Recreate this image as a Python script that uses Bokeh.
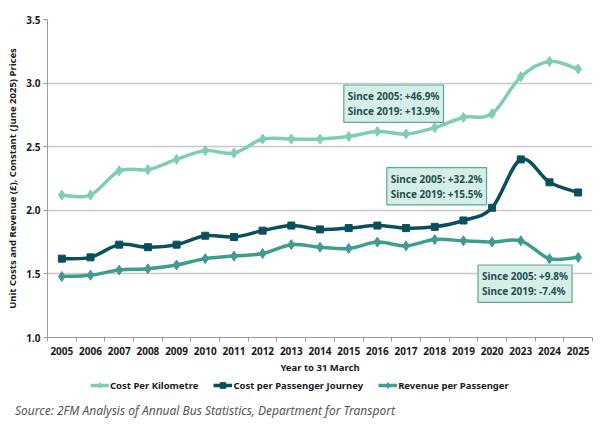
from bokeh.plotting import figure
from bokeh.layouts import column
from bokeh.models import (Range1d, FixedTicker, Label, Legend, LegendItem,
                          NumeralTickFormatter, Div)
from bokeh.embed import file_html
from bokeh.resources import INLINE

# Years (financial year to 31 March)
years = ["2005", "2006", "2007", "2008", "2009", "2010", "2011", "2012", "2013",
         "2014", "2015", "2016", "2017", "2018", "2019", "2020", "2023", "2024", "2025"]

# Unit costs and revenue, £ at constant June 2025 prices
cost_per_km = [2.12, 2.12, 2.31, 2.32, 2.40, 2.47, 2.45, 2.56, 2.56, 2.56,
               2.58, 2.62, 2.60, 2.65, 2.73, 2.76, 3.05, 3.17, 3.11]
cost_per_journey = [1.62, 1.63, 1.73, 1.71, 1.73, 1.80, 1.79, 1.84, 1.88, 1.85,
                    1.86, 1.88, 1.86, 1.87, 1.92, 2.02, 2.40, 2.22, 2.14]
revenue_per_pass = [1.48, 1.49, 1.53, 1.54, 1.57, 1.62, 1.64, 1.66, 1.73, 1.71,
                    1.70, 1.75, 1.72, 1.77, 1.76, 1.75, 1.76, 1.62, 1.63]

y_ticks = [1.0, 1.5, 2.0, 2.5, 3.0, 3.5]

notes_km = "Since 2005: +46.9%\nSince 2019: +13.9%"
notes_journey = "Since 2005: +32.2%\nSince 2019: +15.5%"
notes_revenue = "Since 2005: +9.8%\nSince 2019: -7.4%"
source_note = "Source: 2FM Analysis of Annual Bus Statistics, Department for Transport"

C_KM = "#80CDB7"
C_JOURNEY = "#0B4F5C"
C_REV = "#3E9E8C"
C_REV_EDGE = "#4d8fa8"
FONT = "Noto Sans"

n = len(years)
xs = list(range(n))

p = figure(width=600, height=376, output_backend="svg", toolbar_location=None,
           x_range=Range1d(-0.5, n - 0.5), y_range=Range1d(1.0, 3.5),
           min_border_left=47, min_border_right=8, min_border_top=19,
           min_border_bottom=37)
p.outline_line_color = None
p.background_fill_color = "white"
p.border_fill_color = "white"

# axes
p.xaxis.ticker = FixedTicker(ticks=xs, minor_ticks=[i - 0.5 for i in range(n + 1)])
p.xaxis.major_label_overrides = {i: y for i, y in enumerate(years)}
p.xaxis.major_tick_out = 0
p.xaxis.major_tick_in = 0
p.xaxis.minor_tick_out = 4
p.xaxis.minor_tick_in = 0
p.xaxis.axis_line_color = "#9a9a9a"
p.xaxis.minor_tick_line_color = "#9a9a9a"
p.xaxis.axis_label = "Year to 31 March"
p.xaxis.axis_label_standoff = 3
p.xaxis.major_label_standoff = 5

p.yaxis.ticker = FixedTicker(ticks=y_ticks)
p.yaxis.formatter = NumeralTickFormatter(format="0.0")
p.yaxis.axis_line_color = "#9a9a9a"
p.yaxis.major_tick_line_color = "#9a9a9a"
p.yaxis.major_tick_out = 4
p.yaxis.major_tick_in = 0
p.yaxis.minor_tick_line_color = None
p.yaxis.axis_label = "Unit Costs and Revenue (£), Constant (June 2025) Prices"
p.yaxis.axis_label_standoff = 4
p.yaxis.major_label_standoff = 3

for ax in (p.xaxis, p.yaxis):
    ax.major_label_text_font = FONT
    ax.major_label_text_font_style = "bold"
    ax.major_label_text_font_size = "10px"
    ax.major_label_text_color = "#1a1a1a"
    ax.axis_label_text_font = FONT
    ax.axis_label_text_font_style = "bold"
    ax.axis_label_text_font_size = "9.5px"
    ax.axis_label_text_color = "#1a1a1a"

p.xgrid.grid_line_color = None
p.ygrid.ticker = FixedTicker(ticks=y_ticks)
p.ygrid.grid_line_color = "#c8c8c8"
p.ygrid.grid_line_width = 1.5


def smooth_curve(vals, color):
    """Draw a smoothed line through the points as cubic Bezier segments."""
    x0, y0, x1, y1, cx0, cy0, cx1, cy1 = ([] for _ in range(8))
    for i in range(n - 1):
        xm = xs[max(i - 1, 0)]
        ym = vals[max(i - 1, 0)]
        xp = xs[min(i + 2, n - 1)]
        yp = vals[min(i + 2, n - 1)]
        x0.append(xs[i]); y0.append(vals[i])
        x1.append(xs[i + 1]); y1.append(vals[i + 1])
        cx0.append(xs[i] + (xs[i + 1] - xm) / 6.0)
        cy0.append(vals[i] + (vals[i + 1] - ym) / 6.0)
        cx1.append(xs[i + 1] - (xp - xs[i]) / 6.0)
        cy1.append(vals[i + 1] - (yp - vals[i]) / 6.0)
    return p.bezier(x0=x0, y0=y0, x1=x1, y1=y1, cx0=cx0, cy0=cy0, cx1=cx1, cy1=cy1,
                    line_color=color, line_width=3.5)


smooth_curve(cost_per_km, C_KM)
p.scatter(xs, cost_per_km, marker="diamond", size=10, fill_color=C_KM, line_color=C_KM)
smooth_curve(cost_per_journey, C_JOURNEY)
p.scatter(xs, cost_per_journey, marker="square", size=7, fill_color=C_JOURNEY,
          line_color=C_JOURNEY)
smooth_curve(revenue_per_pass, C_REV)
p.scatter(xs, revenue_per_pass, marker="diamond", size=10, fill_color=C_REV,
          line_color=C_REV_EDGE)

# change annotations (top-left corner of each box)
for x, y, txt in [(9.83, 2.985, notes_km), (11.33, 2.336, notes_journey),
                  (14.51, 1.57, notes_revenue)]:
    p.add_layout(Label(x=x, y=y, text=txt, text_align="left", text_baseline="top",
                       text_font=FONT, text_font_style="bold", text_font_size="10px",
                       text_color="#1f4f4f", text_line_height=1.1,
                       background_fill_color="#d6eee8", border_line_color="#5aa898",
                       border_line_width=1.2, padding=4))

# legend strip under the chart
f = figure(width=600, height=22, output_backend="svg", toolbar_location=None,
           x_range=Range1d(0, 1), y_range=Range1d(0, 1),
           x_axis_location=None, y_axis_location=None,
           min_border_left=0, min_border_right=0, min_border_top=0,
           min_border_bottom=0)
f.grid.visible = False
f.outline_line_color = None
f.border_fill_color = "white"
f.background_fill_color = "white"

nan = float("nan")
items = []
for lbl, col, mk, sz, edge in [("Cost Per Kilometre", C_KM, "diamond", 10, C_KM),
                               ("Cost per Passenger Journey", C_JOURNEY, "square", 7, C_JOURNEY),
                               ("Revenue per Passenger", C_REV, "diamond", 10, C_REV_EDGE)]:
    r_line = f.line([nan], [nan], line_color=col, line_width=3.5)
    r_mark = f.scatter([nan], [nan], marker=mk, size=sz, fill_color=col, line_color=edge)
    items.append(LegendItem(label=lbl, renderers=[r_line, r_mark]))

legend = Legend(items=items, orientation="horizontal", location=(43, 6),
                border_line_color=None, background_fill_alpha=0,
                label_text_font=FONT, label_text_font_style="bold",
                label_text_font_size="9.5px", label_text_color="#1a1a1a",
                glyph_width=19, glyph_height=14, label_height=14, label_standoff=1,
                spacing=15, padding=0, margin=0)
f.add_layout(legend, "center")

# source note
src = Div(text=source_note, width=600, height=25,
          styles={"font-family": FONT, "font-style": "italic", "font-size": "12px",
                  "color": "#555555", "line-height": "25px", "padding-left": "15px",
                  "white-space": "nowrap", "margin": "0"})

open("out.html", "w").write(file_html(column(p, f, src, spacing=0), INLINE))
